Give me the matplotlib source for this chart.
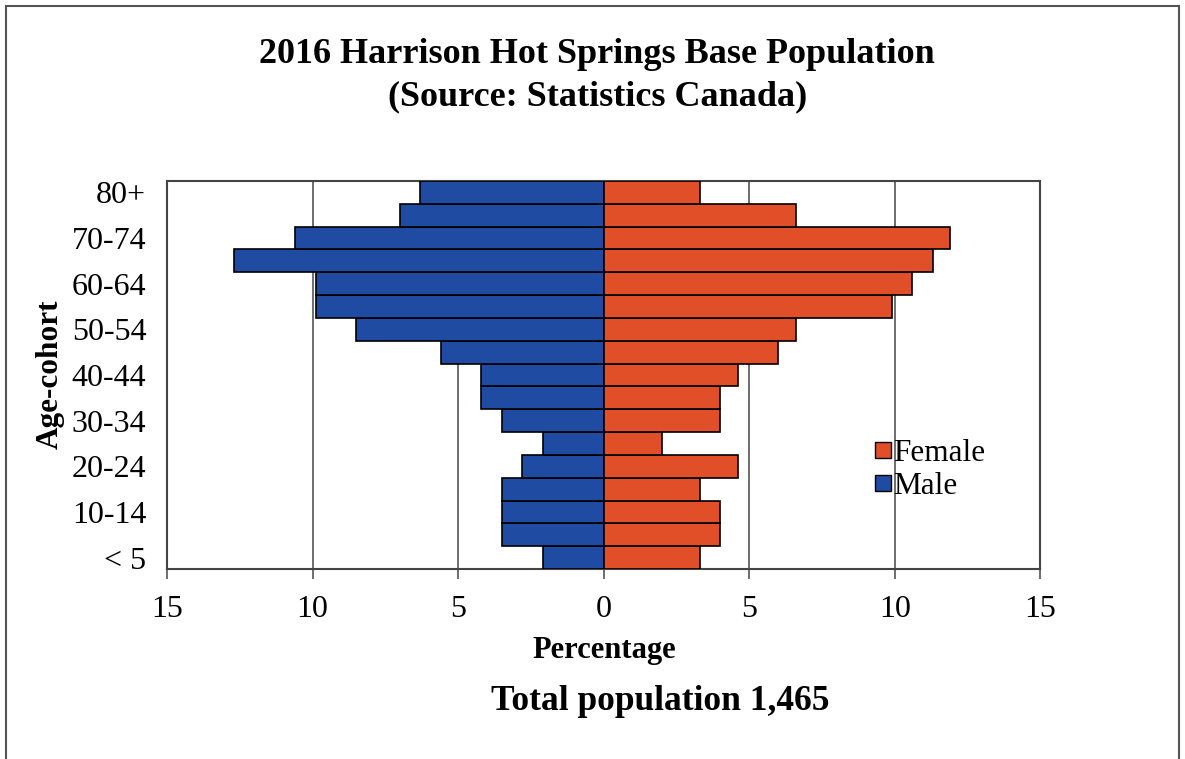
import matplotlib.pyplot as plt
import matplotlib.patches as mpatches
from matplotlib.ticker import FuncFormatter

# Age cohorts, bottom to top
COHORTS = ["< 5", "5-9", "10-14", "15-19", "20-24", "25-29", "30-34",
           "35-39", "40-44", "45-49", "50-54", "55-59", "60-64", "65-69",
           "70-74", "75-79", "80+"]

# Percentages
male = [2.1, 3.5, 3.5, 3.5, 2.8, 2.1, 3.5, 4.2, 4.2, 5.6, 8.5, 9.9, 9.9,
        12.7, 10.6, 7.0, 6.3]
female = [3.3, 4.0, 4.0, 3.3, 4.6, 2.0, 4.0, 4.0, 4.6, 6.0, 6.6, 9.9, 10.6,
          11.3, 11.9, 6.6, 3.3]

X_TICKS = [-15, -10, -5, 0, 5, 10, 15]

BLUE = "#1f4ba3"
ORANGE = "#e04f27"

plt.rcParams["font.family"] = ["Liberation Serif", "DejaVu Serif"]

fig = plt.figure(figsize=(11.85, 7.59), dpi=100)
fig.patch.set_facecolor("white")
ax = fig.add_axes([0.141, 0.2503, 0.737, 0.5112])

ypos = list(range(len(COHORTS)))
ax.barh(ypos, [-m for m in male], height=1.0, color=BLUE,
        edgecolor="black", linewidth=1.2, label="Male", zorder=3)
ax.barh(ypos, female, height=1.0, color=ORANGE,
        edgecolor="black", linewidth=1.2, label="Female", zorder=3)

ax.set_xlim(-15, 15)
ax.set_ylim(-0.5, len(COHORTS) - 0.5)
ax.set_xticks(X_TICKS)
ax.xaxis.set_major_formatter(FuncFormatter(lambda v, p: f"{abs(v):g}"))
ax.tick_params(axis="x", direction="out", length=7, width=1.2,
               color="#555555", labelsize=23, pad=12)

ax.set_yticks(ypos[::2])
ax.set_yticklabels(COHORTS[::2])
ax.tick_params(axis="y", length=0, labelsize=23, pad=15)

for g in [-10, -5, 5, 10]:
    ax.axvline(g, color="#555555", linewidth=1.2, zorder=1)

for sp in ax.spines.values():
    sp.set_color("#444444")
    sp.set_linewidth(1.5)

ax.set_xlabel("Percentage", fontsize=22, fontweight="bold")
ax.xaxis.set_label_coords(0.5, -0.173)
ax.set_ylabel("Age-cohort", fontsize=22.5, fontweight="bold")
ax.yaxis.set_label_coords(-0.117, 0.503)

handles = [mpatches.Patch(facecolor=ORANGE, edgecolor="black", label="Female"),
           mpatches.Patch(facecolor=BLUE, edgecolor="black", label="Male")]
ax.legend(handles=handles, loc="center left", bbox_to_anchor=(0.793, 0.255),
          frameon=False, fontsize=22.5, handlelength=0.51, handleheight=0.45,
          handletextpad=0.05, labelspacing=0.13, borderpad=0)

fig.text(0.504, 0.9005, "2016 Harrison Hot Springs Base Population\n"
         "(Source: Statistics Canada)", ha="center", va="center",
         fontsize=26, fontweight="bold", linespacing=1.4)
fig.text(0.557, 0.0646, "Total population 1,465", ha="center",
         va="baseline", fontsize=25.5, fontweight="bold")

fig.patches.append(mpatches.Rectangle((0.005, -0.01), 0.99, 1.002,
                                      transform=fig.transFigure, fill=False,
                                      edgecolor="#555555", linewidth=1.5))

fig.savefig("out.png", dpi=100)
